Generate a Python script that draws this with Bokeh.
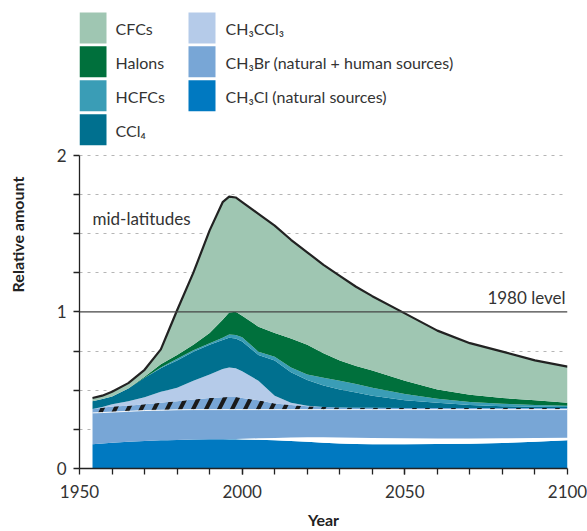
import numpy as np
from bokeh.plotting import figure
from bokeh.models import FixedTicker, Range1d, Span, Label
from bokeh.core.properties import value
from bokeh.embed import file_html
from bokeh.resources import INLINE

# ---------------- data (relative amount, layer thicknesses) ----------------
years = [1954, 1957, 1960, 1965, 1970, 1975, 1977, 1980, 1985, 1990, 1994, 1996, 1998, 2000,
         2005, 2010, 2015, 2020, 2025, 2030, 2035, 2040, 2050, 2060, 2070, 2080, 2090, 2100]

ch3cl = [0.155, 0.16, 0.165, 0.17, 0.175, 0.18, 0.181, 0.182, 0.185, 0.186, 0.186, 0.186, 0.186, 0.185,
         0.183, 0.18, 0.175, 0.17, 0.165, 0.16, 0.157, 0.155, 0.155, 0.156, 0.158, 0.163, 0.17, 0.18]
gap = [0, 0, 0, 0, 0, 0, 0, 0, 0, 0, 0.001, 0.002, 0.003, 0.005,
       0.01, 0.015, 0.023, 0.03, 0.035, 0.038, 0.039, 0.04, 0.038, 0.036, 0.034, 0.03, 0.025, 0.017]
ch3br_natural = [0.20, 0.197, 0.195, 0.195, 0.195, 0.192, 0.192, 0.193, 0.191, 0.19, 0.189, 0.188, 0.187, 0.186,
                 0.183, 0.181, 0.178, 0.176, 0.176, 0.178, 0.18, 0.181, 0.183, 0.184, 0.184, 0.183, 0.181, 0.179]
ch3br_human = [0.025, 0.03, 0.035, 0.035, 0.04, 0.048, 0.051, 0.055, 0.064, 0.074, 0.079, 0.081, 0.08, 0.074,
               0.059, 0.039, 0.029, 0.022, 0.016, 0.014, 0.012, 0.011, 0.01, 0.01, 0.01, 0.01, 0.01, 0.01]
ch3ccl3 = [0, 0.006, 0.015, 0.03, 0.045, 0.07, 0.076, 0.085, 0.12, 0.15, 0.18, 0.188, 0.184, 0.17,
           0.125, 0.05, 0.015, 0.002, 0.001, 0, 0, 0, 0, 0, 0, 0, 0, 0]
ccl4 = [0.05, 0.05, 0.05, 0.08, 0.125, 0.15, 0.16, 0.175, 0.185, 0.19, 0.185, 0.19, 0.19, 0.19,
        0.165, 0.225, 0.195, 0.165, 0.137, 0.115, 0.097, 0.078, 0.049, 0.034, 0.019, 0.012, 0.008, 0.006]
hcfcs = [0, 0, 0, 0, 0, 0.005, 0.007, 0.01, 0.01, 0.01, 0.015, 0.02, 0.022, 0.027,
         0.021, 0.024, 0.03, 0.035, 0.05, 0.055, 0.055, 0.05, 0.04, 0.025, 0.02, 0.016, 0.011, 0.008]
halons = [0, 0, 0, 0, 0.005, 0.02, 0.023, 0.025, 0.035, 0.065, 0.115, 0.14, 0.148, 0.138,
          0.159, 0.151, 0.185, 0.19, 0.155, 0.13, 0.115, 0.11, 0.085, 0.06, 0.045, 0.036, 0.03, 0.02]
cfcs = [0.02, 0.022, 0.03, 0.035, 0.045, 0.095, 0.17, 0.285, 0.46, 0.655, 0.75, 0.74, 0.73, 0.725,
        0.72, 0.685, 0.63, 0.59, 0.565, 0.54, 0.505, 0.475, 0.43, 0.375, 0.33, 0.296, 0.255, 0.23]

legend_labels = ["CFCs", "Halons", "HCFCs", "CCl₄",
                 "CH₃CCl₃", "CH₃Br (natural + human sources)", "CH₃Cl (natural sources)"]
x_tick_labels = [1950, 2000, 2050, 2100]
y_tick_labels = [0, 1, 2]

# ---------------- styles ----------------
C_CFC = "#9fc6b2"
C_HAL = "#00703c"
C_HCFC = "#3a9db6"
C_CCL4 = "#00708f"
C_MCF = "#b5cbe9"
C_BR = "#78a6d6"
C_CL = "#0079c1"
FONT = "Lato"
TXT = "#333333"

# ---------------- figure geometry (figure px == page px) ----------------
W, H = 587, 531
F_LEFT, F_RIGHT = 79, 567          # px of 1950 / 2100
Y0_PX, Y2_PX = 469, 155            # px of y=0 / y=2
ppu = (Y0_PX - Y2_PX) / 2.0
y_top = Y0_PX / ppu

def px2x(px):
    return 1950 + (px - F_LEFT) * 150.0 / (F_RIGHT - F_LEFT)

def px2y(py):
    return (Y0_PX - py) / ppu

p = figure(width=W, height=H, x_range=Range1d(1950, 2100), y_range=Range1d(0, y_top),
           output_backend="svg", toolbar_location=None,
           min_border_left=F_LEFT, min_border_right=W - F_RIGHT,
           min_border_top=0, min_border_bottom=H - Y0_PX)
p.outline_line_color = None
p.background_fill_color = "white"
p.border_fill_color = "white"

p.xgrid.visible = False
p.ygrid.ticker = FixedTicker(ticks=[0.25, 0.5, 0.75, 1.25, 1.5, 1.75, 2.0])
p.ygrid.grid_line_color = "#b5b5b5"
p.ygrid.grid_line_dash = "3 5"
p.ygrid.grid_line_width = 1

# ---------------- stacked layers ----------------
layers = [ch3cl, gap, ch3br_natural, ch3br_human, ch3ccl3, ccl4, hcfcs, halons, cfcs]
tops = np.cumsum(np.array(layers, dtype=float), axis=0)
bottoms = np.vstack([np.zeros(len(years)), tops[:-1]])

fills = [C_CL, "white", C_BR, C_BR, C_MCF, C_CCL4, C_HCFC, C_HAL, C_CFC]
for i, col in enumerate(fills):
    kw = {}
    if i == 3:
        kw = dict(hatch_pattern="/", hatch_color="#1a1a1a", hatch_weight=4, hatch_scale=26)
    p.varea(x=years, y1=bottoms[i], y2=tops[i], fill_color=col, **kw)

# thin white line at top of natural CH3Br
p.line(years, tops[2], line_color="white", line_width=1, line_alpha=0.9)
# total outline
p.line(years, tops[-1], line_color="#222222", line_width=2.2, line_join="round")

# 1980 level
p.add_layout(Span(location=1, dimension="width", line_color="#444444", line_width=1.3))

# ---------------- axes ----------------
p.yaxis.ticker = FixedTicker(ticks=y_tick_labels,
                             minor_ticks=[0.25, 0.5, 0.75, 1.25, 1.5, 1.75])
p.yaxis.bounds = (0, 2)
p.xaxis.ticker = FixedTicker(ticks=x_tick_labels,
                             minor_ticks=list(range(1960, 2100, 10)))
for ax in (p.xaxis[0], p.yaxis[0]):
    ax.axis_line_color = "#222222"
    ax.axis_line_width = 1.3
    ax.major_tick_line_color = "#222222"
    ax.minor_tick_line_color = "#222222"
    ax.major_tick_line_width = 1.3
    ax.minor_tick_line_width = 1.3
    ax.major_tick_in = 0
    ax.minor_tick_in = 0
    ax.major_tick_out = 6
    ax.minor_tick_out = 6
    ax.major_label_text_font = FONT
    ax.major_label_text_font_size = "17px"
    ax.major_label_text_color = TXT
    ax.axis_label_text_font = FONT
    ax.axis_label_text_font_size = "16px"
    ax.axis_label_text_font_style = "bold"
    ax.axis_label_text_color = "#222222"

p.yaxis.axis_label = "Relative amount"
p.yaxis.major_label_standoff = 7
p.yaxis.axis_label_standoff = 27
p.xaxis.axis_label = "Year"
p.xaxis.major_label_standoff = 10
p.xaxis.axis_label_standoff = 9

# ---------------- annotations ----------------
p.add_layout(Label(x=px2x(92), y=px2y(218), text="mid-latitudes", text_font=FONT,
                   text_font_size="17px", text_color=TXT, text_baseline="middle"))
p.add_layout(Label(x=px2x(565), y=px2y(298), text="1980 level", text_font=FONT,
                   text_font_size="17px", text_color=TXT, text_baseline="middle",
                   text_align="right"))

# ---------------- legend (manual) ----------------
leg_colors = [C_CFC, C_HAL, C_HCFC, C_CCL4, C_MCF, C_BR, C_CL]
row_py = [27.5, 61.5, 95.5, 129.5]
sq_x, sq_y, tx_x, tx_y = [], [], [], []
for i in range(len(legend_labels)):
    col, row = (0, i) if i < 4 else (1, i - 4)
    sx = 92.5 if col == 0 else 201.5
    txp = 115 if col == 0 else 225
    sq_x.append(px2x(sx)); sq_y.append(px2y(row_py[row]))
    tx_x.append(px2x(txp)); tx_y.append(px2y(row_py[row] + 1))
p.rect(x=sq_x, y=sq_y, width=27, height=31, width_units="screen", height_units="screen",
       fill_color=leg_colors, line_color=None)
p.text(x=tx_x, y=tx_y, text=legend_labels, text_font=value(FONT), text_font_size="16px",
       text_color=TXT, text_baseline="middle")

open("out.html", "w").write(file_html(p, INLINE))
